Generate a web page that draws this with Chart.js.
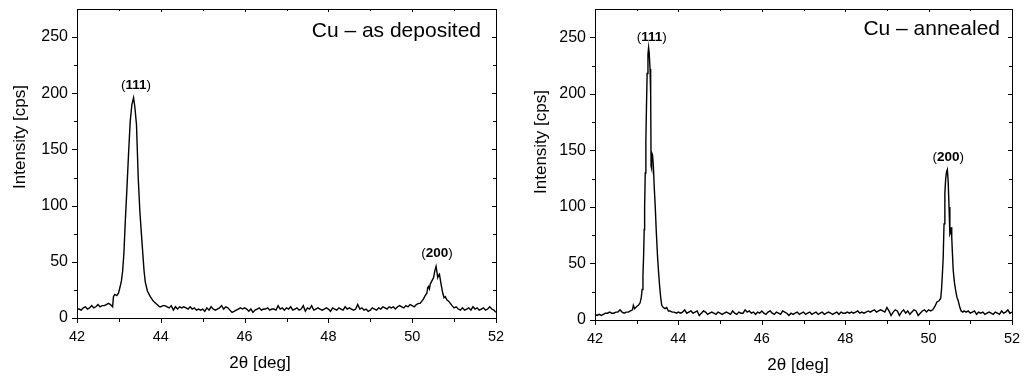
<!DOCTYPE html>
<html>
<head>
<meta charset="utf-8">
<script src="https://cdn.jsdelivr.net/npm/chart.js@4/dist/chart.umd.min.js"></script>
<style>
  html, body { margin: 0; padding: 0; background: #fff; }
  #wrap { position: relative; width: 1025px; height: 376px; }
  .panel { position: absolute; top: 0; width: 512px; height: 376px; }
</style>
</head>
<body>
<div id="wrap">
  <div class="panel" style="left:0"><canvas id="left" width="512" height="376"></canvas></div>
  <div class="panel" style="left:513px"><canvas id="right" width="512" height="376"></canvas></div>
</div>
<script>
// axis ticks
const xTickValues = [42, 44, 46, 48, 50, 52];
const xMinorValues = [43, 45, 47, 49, 51];
const yTickValues = [0, 50, 100, 150, 200, 250];
const yMinorValues = [25, 75, 125, 175, 225];

// scan step of the flat parts (deg)
const STEP = 0.05;

// ---- Cu as deposited ----
const leftBaseA = [8, 8, 7, 9, 10, 8, 9, 11, 9, 10, 12, 10, 11, 11, 12, 13, 12, 10]; // from 42.00
const leftPeak111Angle = [42.87, 42.90, 42.95, 42.99, 43.03, 43.06, 43.09, 43.12, 43.15, 43.19, 43.23, 43.27, 43.31, 43.35, 43.38, 43.42, 43.46, 43.50, 43.55, 43.60, 43.63, 43.68, 43.75, 43.82, 43.91, 43.97];
const leftPeak111Counts = [19, 21, 20, 22, 28, 33, 42, 58, 84, 114, 146, 175, 190, 196, 188, 172, 126, 95, 68, 42, 32, 24, 19, 15, 12, 10];
const leftBaseB = [ // from 44.00
  10, 11, 11, 10, 9, 11, 7, 10, 8, 10, 9, 10, 9, 8, 10, 8, 9, 7, 8, 7,
  8, 6, 9, 7, 10, 8, 7, 8, 9, 11, 8, 10, 9, 7, 5, 6, 7, 8, 9, 8,
  9, 8, 6, 8, 5, 7, 8, 9, 7, 8, 8, 9, 7, 8, 8, 7, 11, 8, 9, 7,
  9, 8, 10, 7, 8, 9, 7, 8, 11, 6, 9, 8, 11, 7, 8, 9, 8, 7, 8, 9,
  8, 6, 9, 8, 7, 9, 8, 7, 10, 8, 9, 8, 7, 8, 12, 8, 9, 7, 8, 6,
  7, 9, 8, 7, 9, 8, 10, 9, 8, 10, 9, 10, 8, 10, 11, 10, 9, 11, 10, 12,
  11, 10, 12, 13
];
const leftPeak200Angle = [50.19, 50.23, 50.27, 50.31, 50.35, 50.37, 50.39, 50.41, 50.43, 50.47, 50.51, 50.54, 50.57, 50.61, 50.63, 50.65, 50.69, 50.73, 50.76, 50.79, 50.83, 50.87, 50.91, 50.95, 51.00];
const leftPeak200Counts = [13, 15, 17, 20, 22, 27, 28, 26, 30, 33, 36, 42, 46, 36, 38, 39, 30, 22, 18, 19, 16, 15, 13, 11, 9];
const leftBaseC = [10, 8, 7, 9, 7, 8, 9, 7, 10, 8, 9, 7, 8, 9, 7, 8, 10, 8, 7, 5]; // from 51.05

// ---- Cu annealed ----
const rightBaseA = [5, 4, 5, 4, 5, 6, 6, 7, 6, 6, 7, 7, 9, 7, 6, 7, 7, 8, 9]; // from 42.00
const rightPeak111Angle = [42.92, 42.95, 43.00, 43.04, 43.08, 43.11, 43.13, 43.15, 43.165, 43.18, 43.19, 43.205, 43.22, 43.235, 43.25, 43.27, 43.285, 43.30, 43.32, 43.335, 43.345, 43.355, 43.36, 43.38, 43.40, 43.42, 43.445, 43.47, 43.50, 43.525, 43.55, 43.575, 43.60, 43.64, 43.68, 43.72, 43.76];
const rightPeak111Counts = [13, 10, 12, 13, 15, 20, 27, 40, 56, 80, 100, 130, 159, 190, 218, 235, 241, 236, 222, 200, 136, 134, 148, 146, 136, 118, 100, 78, 56, 42, 30, 20, 13, 11, 10, 11, 8];
const rightBaseB = [ // from 43.80
  8, 7, 7, 6,
  7, 6, 7, 9, 6, 7, 8, 6, 7, 8, 4, 6, 8, 7, 5, 6, 7, 6, 5, 7,
  6, 5, 6, 7, 6, 5, 8, 6, 5, 7, 6, 6, 9, 7, 8, 6, 7, 5, 7, 6,
  8, 6, 5, 7, 8, 6, 5, 7, 6, 5, 8, 7, 6, 4, 6, 5, 6, 7, 5, 6,
  7, 5, 6, 7, 5, 6, 7, 5, 6, 7, 5, 6, 7, 6, 5, 6, 7, 5, 7, 6,
  6, 7, 6, 7, 6, 7, 8, 6, 7, 6, 7, 8, 7, 8, 9, 7, 8, 9, 8, 7,
  11, 8, 4, 7, 9, 8, 4, 7, 9, 6, 8, 5, 7, 9, 8, 4, 6, 8, 9, 7,
  9, 8, 9
];
const rightPeak200Angle = [50.15, 50.20, 50.25, 50.29, 50.31, 50.33, 50.35, 50.37, 50.39, 50.41, 50.43, 50.45, 50.47, 50.49, 50.51, 50.53, 50.545, 50.555, 50.57, 50.59, 50.62, 50.65, 50.68, 50.71, 50.75, 50.78, 50.82];
const rightPeak200Counts = [12, 16, 17, 19, 27, 40, 55, 85, 112, 125, 131, 133, 122, 100, 76, 78, 82, 73, 60, 44, 33, 26, 20, 17, 11, 8, 7];
const rightBaseC = [8, 7, 8, 6, 7, 8, 5, 7, 6, 7, 5, 6, 7, 6, 5, 7, 6, 5, 8, 6, 7, 9, 6, 7]; // from 50.85

function flat(start, counts) {
  return counts.map((c, i) => ({ x: +(start + i * STEP).toFixed(3), y: c }));
}
function peak(angles, counts) {
  return angles.map((a, i) => ({ x: a, y: counts[i] }));
}

const leftData = [].concat(
  flat(42.00, leftBaseA), peak(leftPeak111Angle, leftPeak111Counts),
  flat(44.00, leftBaseB), peak(leftPeak200Angle, leftPeak200Counts),
  flat(51.05, leftBaseC));
const rightData = [].concat(
  flat(42.00, rightBaseA), peak(rightPeak111Angle, rightPeak111Counts),
  flat(43.80, rightBaseB), peak(rightPeak200Angle, rightPeak200Counts),
  flat(50.85, rightBaseC));

const FONT = '"Liberation Sans", Arial, Helvetica, sans-serif';

// frame, minor ticks, titles and peak labels
const framePlugin = {
  id: 'frame',
  afterDraw(chart, args, o) {
    const { ctx, chartArea: a, scales: { x, y } } = chart;
    ctx.save();
    ctx.strokeStyle = '#000';
    ctx.lineWidth = 1;
    ctx.strokeRect(a.left + 0.5, a.top + 0.5, a.right - a.left, a.bottom - a.top);
    ctx.beginPath();
    const tx = (v, lenOut, lenIn) => {
      const p = Math.round(x.getPixelForValue(v)) + 0.5;
      ctx.moveTo(p, a.bottom); ctx.lineTo(p, a.bottom + lenOut);
      ctx.moveTo(p, a.top); ctx.lineTo(p, a.top + lenIn);
    };
    const ty = (v, lenOut, lenIn) => {
      const p = Math.round(y.getPixelForValue(v)) + 0.5;
      ctx.moveTo(a.left, p); ctx.lineTo(a.left - lenOut, p);
      ctx.moveTo(a.right, p); ctx.lineTo(a.right - lenIn, p);
    };
    xTickValues.forEach(v => tx(v, 5, 3));
    xMinorValues.forEach(v => tx(v, 4, 2));
    yTickValues.forEach(v => ty(v, 5, 4));
    yMinorValues.forEach(v => ty(v, 3, 3));
    ctx.stroke();

    ctx.fillStyle = '#000';
    // axis titles
    ctx.font = '17px ' + FONT;
    ctx.textAlign = 'center';
    ctx.textBaseline = 'middle';
    ctx.fillText('2θ [deg]', o.xTitle[0], o.xTitle[1]);
    ctx.save();
    ctx.translate(o.yTitle[0], o.yTitle[1]);
    ctx.rotate(-Math.PI / 2);
    ctx.fillText('Intensity [cps]', 0, 0);
    ctx.restore();

    // sample name
    ctx.font = '21px ' + FONT;
    ctx.textAlign = 'right';
    ctx.textBaseline = 'alphabetic';
    ctx.fillText(o.name, a.right - o.nameInset, o.nameBase);

    // peak labels
    o.peaks.forEach(pk => {
      const cx = x.getPixelForValue(pk.at[0]);
      const cy = y.getPixelForValue(pk.at[1]);
      const normal = '13.5px ' + FONT, bold = 'bold 13.5px ' + FONT;
      ctx.font = normal; const wp = ctx.measureText('(').width, wq = ctx.measureText(')').width;
      ctx.font = bold; const wb = ctx.measureText(pk.hkl).width;
      let px = cx - (wp + wb + wq) / 2;
      ctx.textAlign = 'left';
      ctx.textBaseline = 'middle';
      ctx.font = normal; ctx.fillText('(', px, cy); px += wp;
      ctx.font = bold; ctx.fillText(pk.hkl, px, cy); px += wb;
      ctx.font = normal; ctx.fillText(')', px, cy);
    });
    ctx.restore();
  }
};

function makeChart(id, data, p) {
  return new Chart(document.getElementById(id), {
    type: 'scatter',
    data: {
      datasets: [{
        data: data,
        showLine: true,
        borderColor: '#000',
        borderWidth: 1.4,
        pointRadius: 0,
        tension: 0,
        clip: 2
      }]
    },
    options: {
      responsive: false,
      animation: false,
      events: [],
      layout: { padding: { left: 0, top: 9, right: p.padRight, bottom: 0 } },
      plugins: { legend: { display: false }, tooltip: { enabled: false }, frame: p.frame },
      scales: {
        x: {
          type: 'linear', min: 42, max: 52,
          grid: { display: false, drawTicks: false },
          border: { display: false },
          afterBuildTicks: s => { s.ticks = xTickValues.map(v => ({ value: v })); },
          afterFit: s => { s.height = p.xHeight; s.paddingLeft = 0; s.paddingRight = 0; },
          ticks: { color: '#000', padding: 10, maxRotation: 0, font: { family: FONT, size: 14.5 } }
        },
        y: {
          type: 'linear', min: 0, max: 275,
          grid: { display: false, drawTicks: false },
          border: { display: false },
          afterBuildTicks: s => { s.ticks = yTickValues.map(v => ({ value: v })); },
          afterFit: s => { s.width = p.yWidth; s.paddingTop = 0; s.paddingBottom = 0; },
          ticks: { color: '#000', padding: 9, font: { family: FONT, size: 16 } }
        }
      }
    },
    plugins: [framePlugin]
  });
}

makeChart('left', leftData, {
  padRight: 16, xHeight: 58, yWidth: 77,
  frame: {
    name: 'Cu – as deposited', nameInset: 15, nameBase: 37,
    xTitle: [260, 363], yTitle: [20, 137],
    peaks: [{ hkl: '111', at: [43.41, 207] }, { hkl: '200', at: [50.59, 58] }]
  }
});
makeChart('right', rightData, {
  padRight: 13, xHeight: 56, yWidth: 82,
  frame: {
    name: 'Cu – annealed', nameInset: 12, nameBase: 35,
    xTitle: [285, 365], yTitle: [28, 142],
    peaks: [{ hkl: '111', at: [43.36, 250] }, { hkl: '200', at: [50.47, 144] }]
  }
});
</script>
</body>
</html>
